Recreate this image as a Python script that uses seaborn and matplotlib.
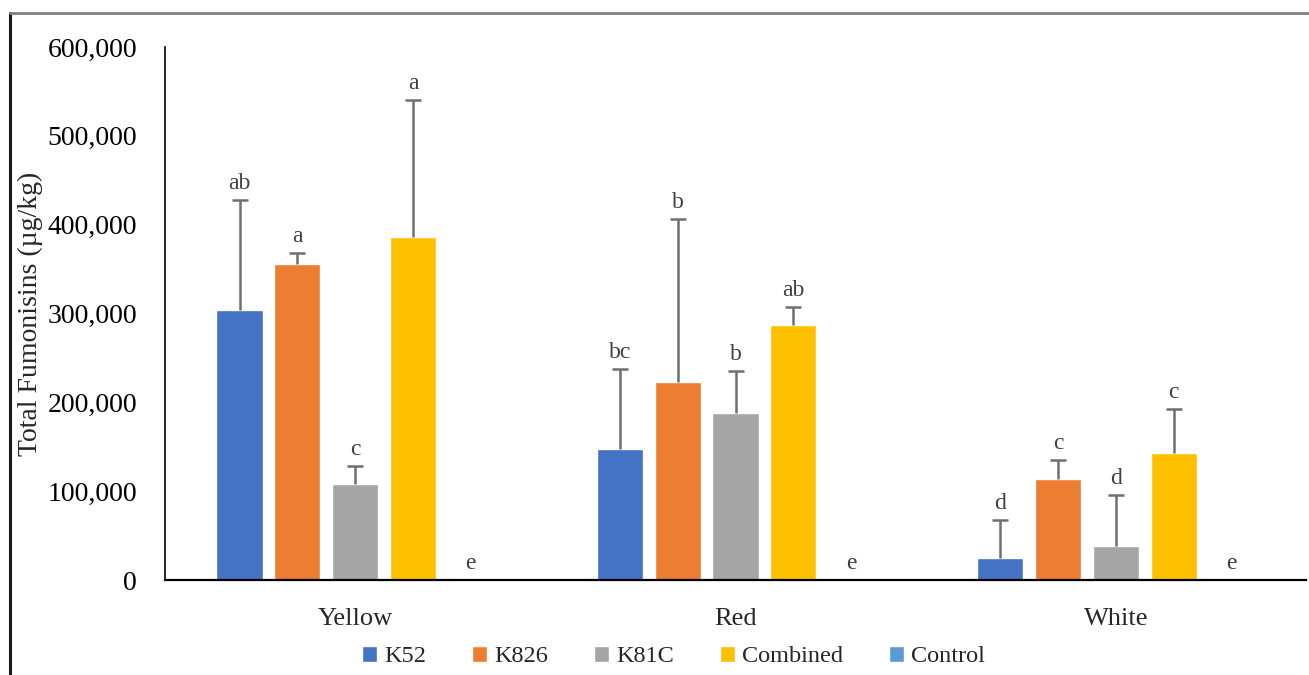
import numpy as np
import pandas as pd
import matplotlib
matplotlib.use("Agg")
import matplotlib.pyplot as plt
import matplotlib.lines as mlines
import seaborn as sns

varieties = ["Yellow", "Red", "White"]
strains = ["K52", "K826", "K81C", "Combined", "Control"]
colors = ["#4472C4", "#ED7D31", "#A5A5A5", "#FFC000", "#5B9BD5"]

# means and upper error (ug/kg), one list per strain in variety order
k52 = [304000, 147500, 25000]
k826 = [355700, 222900, 113300]
k81c = [108000, 188000, 38300]
combined = [386000, 287000, 143300]
control = [0, 0, 0]

k52_err = [124000, 90000, 42000]
k826_err = [12000, 183000, 22000]
k81c_err = [20000, 47000, 57000]
combined_err = [154000, 20000, 49000]
control_err = [0, 0, 0]

k52_let = ["ab", "bc", "d"]
k826_let = ["a", "b", "c"]
k81c_let = ["c", "b", "d"]
combined_let = ["a", "ab", "c"]
control_let = ["e", "e", "e"]

means = [k52, k826, k81c, combined, control]
errs = [k52_err, k826_err, k81c_err, combined_err, control_err]
letters = [k52_let, k826_let, k81c_let, combined_let, control_let]

rows = []
for s, m, e, l in zip(strains, means, errs, letters):
    for v, mv, ev, lv in zip(varieties, m, e, l):
        rows.append({"variety": v, "strain": s, "value": mv, "err": ev, "letter": lv})
df = pd.DataFrame(rows)

sns.set_style("white")
plt.rcParams["font.family"] = ["Liberation Serif", "DejaVu Serif"]

fig = plt.figure(figsize=(13.09, 6.75), dpi=100)
ax = fig.add_axes([165 / 1309, 1 - 580 / 675, (1306 - 165) / 1309, (580 - 47) / 675])

sns.barplot(data=df, x="variety", y="value", hue="strain", order=varieties,
            hue_order=strains, palette=colors, width=0.76, gap=0.2,
            errorbar=None, saturation=1, ax=ax)

# bar centres from seaborn's patches (hue-major order)
bars = [p for p in ax.patches if p.get_width() > 0][:len(df)]
i = 0
for s, m, e, l in zip(strains, means, errs, letters):
    for j in range(len(varieties)):
        p = bars[i]
        i += 1
        cx = p.get_x() + p.get_width() / 2
        h = m[j]
        if e[j] > 0:
            eb = ax.errorbar(cx, h, yerr=[[0], [e[j]]], fmt="none", ecolor="#6f6f6f",
                             elinewidth=1.8, capsize=6, capthick=1.8)
            eb[1][0].set_visible(False)  # no cap at the bar top
        ax.text(cx, h + e[j] + 7000, l[j], ha="center", va="bottom",
                fontsize=17, color="#404040")

ax.set_ylim(0, 600000)
ax.set_xlim(-0.5, 2.5)
ax.set_yticks(np.arange(0, 600001, 100000))
ax.set_yticklabels([f"{int(t):,}" for t in np.arange(0, 600001, 100000)])
ax.tick_params(axis="y", labelsize=20, length=0, pad=20, colors="#000000")
ax.tick_params(axis="x", labelsize=19, length=0, pad=20, colors="#262626")
ax.set_xlabel("")
ax.set_ylabel("Total Fumonisins (µg/kg)", fontsize=20)
ax.yaxis.set_label_coords(-0.107, 0.5)

for side in ["top", "right"]:
    ax.spines[side].set_visible(False)
ax.spines["left"].set_color("#000000")
ax.spines["left"].set_linewidth(1.2)
ax.spines["bottom"].set_color("#000000")
ax.spines["bottom"].set_linewidth(1.6)

handles, labs = ax.get_legend_handles_labels()
ax.legend(handles, labs, loc="lower center", bbox_to_anchor=(0.5 - 62 / 1141, -0.205),
          ncol=5, frameon=False, fontsize=17.5, handlelength=0.6, handleheight=0.6,
          handletextpad=0.3, columnspacing=1.9)

# outer frame fragments
fig.add_artist(mlines.Line2D([10 / 1309, 10 / 1309], [0, 1 - 13 / 675],
                             color="#1a1a1a", lw=2.2))
fig.add_artist(mlines.Line2D([10 / 1309, 1], [1 - 13 / 675, 1 - 13 / 675],
                             color="#808080", lw=2.0))

fig.savefig("out.png", dpi=100)
